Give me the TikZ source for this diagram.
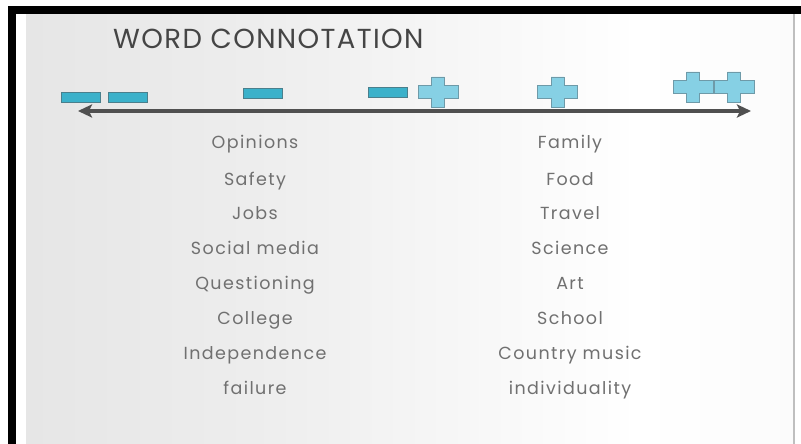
\documentclass[tikz,border=0pt]{standalone}
\usepackage{fontspec}
\setmainfont{Poppins}
\usetikzlibrary{arrows.meta}
\definecolor{minusfill}{HTML}{3BB1CA}
\definecolor{minusdraw}{HTML}{4A7F8C}
\definecolor{plusfill}{HTML}{86D0E4}
\definecolor{plusdraw}{HTML}{6E9AA8}
\definecolor{arrowcol}{HTML}{505050}
\definecolor{wordcol}{HTML}{707070}
\definecolor{titlecol}{HTML}{454545}
\pgfdeclarehorizontalshading{slidebg}{100bp}{color(0bp)=(black!16); color(8bp)=(black!13); color(40bp)=(black!7); color(65bp)=(white); color(85bp)=(black!3); color(100bp)=(black!6)}
\tikzset{
  minusbar/.style={draw=minusdraw, fill=minusfill, line width=0.8pt, minimum width=39pt, minimum height=10pt, inner sep=0pt},
  word/.style={font=\fontsize{17.5}{19}\selectfont\addfontfeature{LetterSpace=8}, text=wordcol, anchor=base, inner sep=0pt},
  plussign/.pic={
    \path[draw=plusdraw, fill=plusfill, line width=0.8pt]
      (-6.5,-15) -- (6.5,-15) -- (6.5,-6.5) -- (20,-6.5) -- (20,6.5) -- (6.5,6.5)
      -- (6.5,15) -- (-6.5,15) -- (-6.5,6.5) -- (-20,6.5) -- (-20,-6.5) -- (-6.5,-6.5) -- cycle;
  }
}
\begin{document}
\begin{tikzpicture}[x=1pt,y=-1pt]
\useasboundingbox (0,0) rectangle (801,444);
\fill[white] (0,0) rectangle (801,444);
% slide background
\shade[shading=slidebg] (26,14) rectangle (793,444);
\fill[black!25] (793,14) rectangle (795,444);
% black frame
\fill[black] (8,6) rectangle (801,14);
\fill[black] (8,6) rectangle (16,444);
% title
\node[anchor=base west, font=\fontsize{27.5}{30}\selectfont\addfontfeature{LetterSpace=5}, text=titlecol, inner sep=0pt] (title) at (113,49) {WORD CONNOTATION};
% arrow
\coordinate (L) at (78,111);
\coordinate (R) at (751,111);
\draw[arrowcol, line width=3.5pt, {Stealth[length=14pt,width=13pt,inset=3pt]}-{Stealth[length=14pt,width=13pt,inset=3pt]}] (L) -- (R);
% minus bars
\node[minusbar] (m1) at (80.5,97) {};
\node[minusbar] (m2) at (128,97) {};
\node[minusbar] (m3) at (262.5,93) {};
\node[minusbar] (m4) at (388,92) {};
% plus signs
\pic (p1) at (438,92) {plussign};
\pic (p2) at (557.5,92) {plussign};
\pic (p3) at (693,87) {plussign};
\pic (p4) at (734,87) {plussign};
% left column
\node[word] (l1) at (255,148) {Opinions};
\node[word] (l2) at (255,185) {Safety};
\node[word] (l3) at (255,219) {Jobs};
\node[word] (l4) at (255,254) {Social media};
\node[word] (l5) at (255,289) {Questioning};
\node[word] (l6) at (255,324) {College};
\node[word] (l7) at (255,359) {Independence};
\node[word] (l8) at (255,394) {failure};
% right column
\node[word] (r1) at (570,148) {Family};
\node[word] (r2) at (570,185) {Food};
\node[word] (r3) at (570,219) {Travel};
\node[word] (r4) at (570,254) {Science};
\node[word] (r5) at (570,289) {Art};
\node[word] (r6) at (570,324) {School};
\node[word] (r7) at (570,359) {Country music};
\node[word] (r8) at (570,394) {individuality};
\end{tikzpicture}
\end{document}
